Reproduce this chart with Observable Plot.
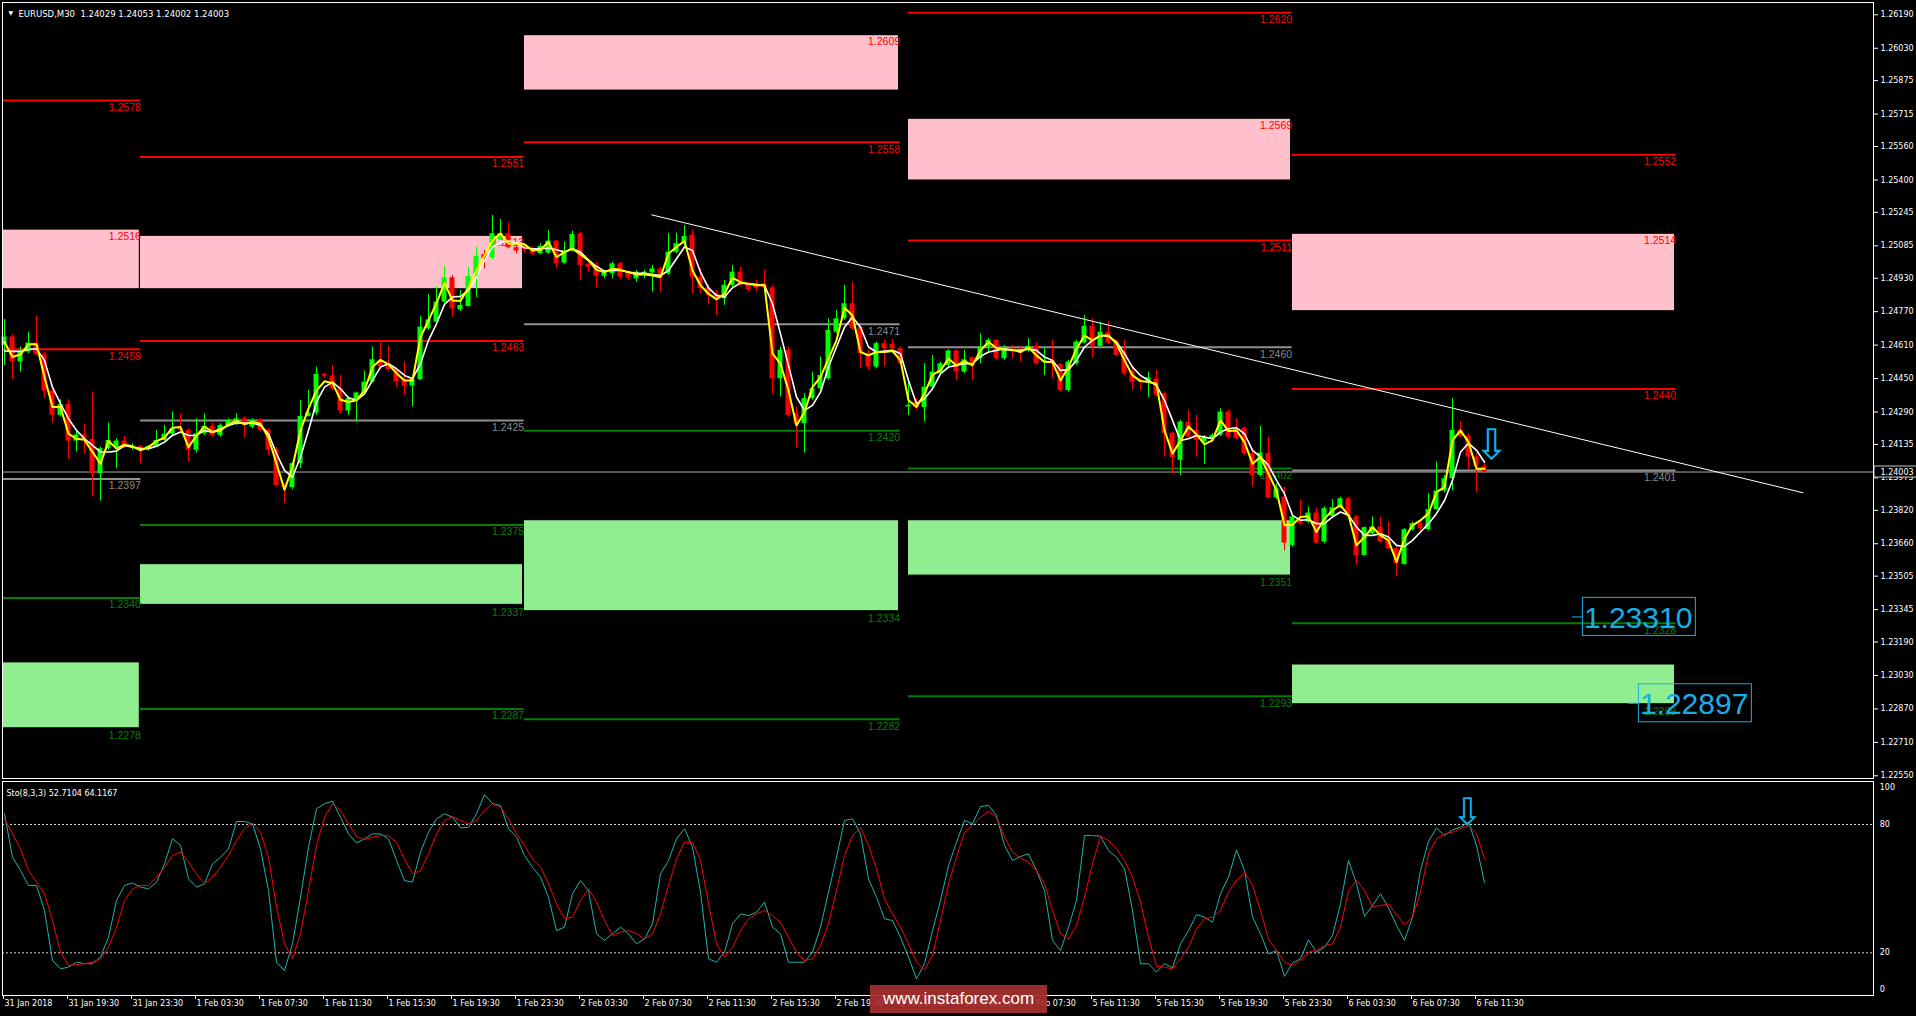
<!DOCTYPE html>
<html><head><meta charset="utf-8">
<script src="https://cdn.jsdelivr.net/npm/d3@7"></script>
<script src="https://cdn.jsdelivr.net/npm/@observablehq/plot@0.6"></script>
<style>
html,body{margin:0;padding:0;background:#000;}
#wrap{position:relative;width:1916px;height:1016px;overflow:hidden;background:#000;}
#main{position:absolute;left:0;top:0;}
#sto{position:absolute;left:0;top:780px;}
#main svg,#sto svg{display:block;}
#wm{position:absolute;left:870px;top:985px;width:177px;height:28px;background:rgba(168,48,48,0.92);color:#fff;font:17px "Liberation Sans",Arial,sans-serif;line-height:28px;text-align:center;}
</style></head>
<body><div id="wrap"><div id="main"></div><div id="sto"></div><div id="wm">www.instaforex.com</div></div>
<script>
// ---------- DATA (prices in points = 0.00001) ----------
const symbol = "EURUSD,M30";
const opens = [
124609,124649,124529,124577,124620,124564,124390,124274,124326,124151,
124181,124159,123995,124115,124119,124151,124119,124126,124110,124122,
124154,124183,124210,124202,124107,124186,124221,124178,124226,124237,
124258,124218,124250,124202,124107,123939,123928,124043,124269,124285,
124470,124462,124401,124295,124346,124381,124433,124529,124518,124492,
124441,124414,124444,124688,124720,124816,124932,124779,124795,124935,
125044,125028,125114,125143,125076,125071,125066,125047,125050,125108,
125002,125063,125143,124996,124991,124939,124951,124999,124955,124927,
124943,124955,124975,124951,125055,125095,125135,124935,124884,124856,
124832,124896,124959,124907,124904,124904,124884,124449,124585,124282,
124234,124354,124401,124449,124672,124736,124808,124696,124569,124505,
124617,124614,124593,124314,124338,124311,124409,124473,124513,124582,
124481,124550,124545,124601,124633,124545,124588,124593,124582,124604,
124529,124537,124518,124393,124521,124620,124700,124604,124672,124625,
124577,124481,124441,124433,124449,124378,124189,124059,124242,124202,
124146,124162,124178,124290,124210,124213,124091,123987,124091,123880,
123883,123652,123775,123764,123807,123668,123791,123832,123875,123788,
123604,123708,123740,123684,123636,123561,123727,123756,123727,123823,
123912,123971,124202,124173,124075,124029];
const highs = [
124733,124660,124601,124672,124747,124577,124401,124349,124349,124202,
124231,124382,124122,124237,124162,124173,124138,124130,124130,124202,
124226,124290,124282,124210,124258,124282,124237,124234,124258,124282,
124266,124258,124258,124210,124122,123947,124051,124346,124393,124505,
124476,124513,124465,124362,124385,124486,124601,124620,124605,124497,
124532,124449,124747,124852,124888,124986,124943,124872,124983,125079,
125063,125230,125211,125194,125095,125087,125079,125095,125159,125111,
125103,125155,125151,125002,125007,124967,125007,125007,124964,124967,
124967,124991,124983,125143,125146,125182,125159,124975,124896,124872,
124919,124991,124983,124911,124919,124970,124896,124601,124601,124314,
124378,124481,124553,124736,124776,124896,124911,124704,124585,124625,
124633,124636,124601,124441,124354,124521,124561,124529,124588,124588,
124585,124553,124664,124641,124636,124609,124609,124601,124641,124620,
124593,124633,124521,124537,124633,124752,124736,124720,124720,124633,
124633,124497,124449,124481,124489,124385,124194,124250,124298,124274,
124178,124186,124306,124298,124258,124218,124115,124221,124170,123947,
123931,123796,123867,123836,123828,123836,123871,123883,123883,123796,
123740,123788,123788,123764,123644,123732,123764,123764,123899,124051,
123987,124354,124245,124186,124091,124053];
const lows = [
124513,124446,124481,124569,124561,124354,124237,124266,124064,124099,
124091,123883,123864,124107,124019,124115,124107,124043,124103,124119,
124151,124178,124186,124051,124094,124178,124170,124170,124218,124226,
124167,124210,124194,124083,123931,123852,123918,124019,124266,124274,
124454,124393,124282,124274,124242,124370,124429,124497,124486,124409,
124370,124314,124441,124680,124709,124808,124744,124771,124792,124837,
124975,125018,125111,125071,125047,125050,125039,125042,125044,124975,
124996,125055,124919,124959,124884,124927,124927,124923,124919,124911,
124927,124864,124864,124943,125047,125079,124856,124856,124803,124752,
124800,124884,124888,124864,124864,124875,124378,124362,124266,124119,
124094,124346,124393,124441,124664,124728,124680,124497,124489,124497,
124505,124585,124513,124274,124301,124242,124401,124465,124505,124441,
124473,124441,124521,124569,124537,124537,124545,124529,124577,124516,
124465,124449,124385,124385,124513,124617,124550,124601,124613,124556,
124465,124393,124393,124358,124362,124075,123995,123987,124167,124075,
124040,124146,124173,124162,124157,124083,123931,123979,123875,123871,
123625,123644,123748,123756,123660,123660,123788,123828,123780,123557,
123600,123705,123663,123632,123501,123557,123721,123716,123721,123820,
123903,123912,124167,124011,123903,124002];
const closes = [
124649,124529,124577,124620,124564,124390,124274,124326,124151,124181,
124159,123995,124115,124154,124151,124119,124126,124110,124126,124154,
124183,124210,124202,124107,124186,124221,124178,124226,124250,124258,
124237,124250,124202,124107,123939,123928,124043,124269,124285,124470,
124462,124401,124295,124354,124381,124433,124540,124505,124492,124433,
124414,124444,124696,124731,124816,124932,124784,124800,124939,125034,
125023,125143,125143,125076,125060,125063,125047,125082,125108,124999,
125060,125139,124991,124983,124939,124959,124999,124935,124932,124959,
124959,124975,124935,125055,125095,125130,124935,124880,124848,124832,
124896,124959,124896,124875,124880,124884,124449,124585,124274,124231,
124354,124401,124465,124680,124736,124808,124688,124569,124505,124617,
124593,124593,124521,124322,124311,124409,124481,124521,124582,124481,
124540,124513,124601,124633,124545,124593,124585,124572,124604,124521,
124537,124529,124393,124529,124625,124700,124604,124672,124620,124561,
124473,124433,124433,124454,124370,124186,124071,124242,124170,124154,
124170,124178,124290,124170,124162,124091,123987,124094,123880,123923,
123663,123788,123756,123807,123663,123828,123832,123875,123788,123604,
123737,123740,123668,123636,123565,123727,123756,123732,123823,123912,
123971,124202,124173,124075,124028,124003];
// fast moving average (yellow), points
const maFast = [
124625,124553,124566,124614,124614,124457,124314,124314,124186,124162,
124157,124099,124043,124151,124115,124134,124126,124107,124122,124151,
124167,124215,124218,124122,124177,124221,124194,124202,124231,124247,
124231,124242,124234,124167,124043,123918,124027,124202,124306,124393,
124437,124428,124349,124338,124346,124393,124505,124540,124518,124476,
124441,124441,124649,124728,124811,124907,124824,124821,124884,124967,
125039,125111,125144,125095,125095,125092,125063,125066,125103,125031,
125055,125071,125044,125015,124970,124959,124975,124970,124959,124948,
124948,124943,124935,125047,125079,125108,124967,124896,124856,124829,
124856,124932,124911,124903,124896,124896,124569,124521,124393,124226,
124290,124409,124457,124545,124633,124789,124752,124577,124561,124577,
124577,124582,124537,124346,124314,124378,124468,124489,124545,124513,
124534,124513,124585,124625,124596,124588,124588,124577,124598,124561,
124529,124529,124441,124505,124593,124656,124633,124656,124656,124617,
124537,124465,124438,124433,124425,124202,124091,124154,124221,124183,
124135,124154,124250,124199,124202,124146,124043,124075,123995,123915,
123748,123751,123788,123791,123716,123780,123820,123844,123796,123652,
123692,123740,123700,123676,123573,123684,123748,123772,123804,123907,
123931,124154,124202,124146,124019,124019];
// slow moving average (white), points
const maSlow = [
124582,124580,124580,124589,124593,124537,124409,124330,124258,124202,
124162,124130,124099,124099,124103,124130,124122,124115,124115,124126,
124146,124178,124194,124178,124178,124202,124194,124210,124226,124237,
124237,124237,124226,124186,124091,124011,123979,124075,124202,124338,
124409,124433,124401,124358,124346,124377,124441,124505,124521,124497,
124465,124449,124521,124633,124712,124805,124840,124843,124872,124935,
125015,125079,125100,125108,125098,125076,125071,125071,125074,125066,
125055,125071,125055,125018,124986,124964,124967,124967,124959,124954,
124954,124948,124943,124967,125023,125079,125063,124959,124884,124848,
124840,124884,124907,124903,124900,124896,124808,124664,124513,124362,
124298,124322,124385,124505,124601,124696,124744,124696,124601,124577,
124582,124585,124569,124441,124330,124354,124401,124473,124505,124513,
124521,124521,124556,124577,124585,124593,124585,124585,124593,124585,
124553,124537,124489,124492,124537,124601,124633,124656,124652,124625,
124569,124505,124465,124441,124417,124346,124250,124154,124162,124178,
124170,124162,124194,124210,124215,124186,124107,124075,124035,123963,
123899,123796,123772,123775,123756,123756,123788,123812,123796,123740,
123700,123700,123708,123692,123652,123647,123676,123716,123756,123804,
123867,123963,124099,124141,124107,124050];
// Stochastic (8,3,3)
const stochK = [
85.0,64.7,58.5,51.5,51.5,39.8,16.4,12.5,13.3,15.6,
14.9,14.9,18.0,27.3,44.5,51.5,52.7,50.7,49.9,53.0,
61.6,73.3,70.2,54.6,50.7,52.3,61.6,64.7,68.6,81.4,
81.4,80.3,68.6,49.1,15.6,11.7,24.2,46.0,69.4,87.3,
89.7,90.9,83.4,75.6,71.3,73.3,75.6,75.6,73.3,63.2,
53.8,53.0,67.1,76.4,82.6,85.0,83.4,78.4,78.7,85.0,
94.0,89.7,88.9,78.0,74.1,65.5,60.0,55.4,46.0,30.4,
32.0,47.6,53.8,49.1,28.9,25.8,28.9,32.0,28.9,24.2,
26.5,33.6,56.9,63.2,73.3,78.0,69.4,48.4,17.2,15.6,
20.3,33.6,38.2,37.4,39.0,43.7,32.0,28.9,15.6,15.6,
15.6,20.3,32.0,48.4,64.7,81.9,82.6,75.6,54.6,46.0,
35.9,35.1,27.3,18.0,7.8,14.9,30.4,44.5,60.8,71.7,
81.9,80.3,88.4,88.9,84.2,70.2,63.2,65.0,66.3,58.5,
49.1,25.8,21.1,32.0,44.5,74.8,74.8,74.5,67.8,64.7,
59.3,39.8,14.9,14.9,11.0,14.9,13.0,24.2,30.4,37.9,
36.7,34.3,47.6,55.4,68.1,58.5,36.7,28.9,19.5,21.1,
9.0,15.3,17.2,26.1,20.3,22.6,28.1,42.9,63.2,52.3,
37.0,42.1,47.6,41.0,32.8,25.8,36.7,58.5,72.2,78.4,
74.8,77.5,78.7,81.1,70.2,52.7104];
const stochD = [
82.6,75.6,68.6,58.5,53.0,47.6,35.1,20.3,14.1,14.5,
14.9,15.6,17.2,22.6,32.0,44.5,49.9,51.5,51.5,55.4,
60.0,65.5,67.1,62.4,56.9,52.3,55.4,60.0,65.5,72.5,
78.0,80.6,76.4,64.7,41.4,24.2,17.2,28.9,49.1,70.2,
83.4,89.7,86.5,80.3,74.4,72.8,74.1,74.8,74.8,71.7,
63.9,56.9,58.5,66.3,75.6,81.9,83.7,81.9,80.3,81.9,
86.5,89.7,88.1,82.6,75.6,70.2,63.9,60.0,52.3,42.9,
35.9,36.7,44.5,49.9,43.7,35.1,28.1,29.7,30.4,28.9,
26.5,28.9,38.2,51.5,63.9,71.7,71.7,63.2,42.9,24.2,
18.0,22.6,30.4,35.9,38.2,39.8,37.4,34.3,27.3,20.3,
16.4,17.2,23.4,33.6,49.1,65.5,74.8,78.7,70.2,59.3,
45.2,38.2,32.0,24.2,15.6,12.0,18.8,35.1,52.3,64.7,
76.4,79.5,83.4,86.2,83.4,74.1,67.1,64.4,62.4,58.5,
52.3,39.8,28.9,26.5,32.8,46.0,61.6,74.5,72.5,68.6,
63.2,55.4,43.7,27.3,13.6,13.3,12.5,17.2,22.6,31.2,
35.9,36.7,39.8,48.4,53.8,57.7,51.5,39.8,26.5,21.1,
15.6,14.1,16.4,20.3,21.1,23.4,24.2,32.0,49.1,53.8,
49.1,41.6,42.1,42.9,37.9,33.2,36.7,48.4,66.3,73.3,
75.6,76.4,78.0,79.5,75.6,64.1167];
const timeLabels = ["31 Jan 2018","31 Jan 19:30","31 Jan 23:30","1 Feb 03:30","1 Feb 07:30","1 Feb 11:30","1 Feb 15:30","1 Feb 19:30","1 Feb 23:30","2 Feb 03:30","2 Feb 07:30","2 Feb 11:30","2 Feb 15:30","2 Feb 19:30","2 Feb 23:30","5 Feb 03:30","5 Feb 07:30","5 Feb 11:30","5 Feb 15:30","5 Feb 19:30","5 Feb 23:30","6 Feb 03:30","6 Feb 07:30","6 Feb 11:30"];
const priceTicks = [1.26190,1.26030,1.25875,1.25715,1.25560,1.25400,1.25245,1.25085,1.24930,1.24770,1.24610,1.24450,1.24290,1.24135,1.23975,1.23820,1.23660,1.23505,1.23345,1.23190,1.23030,1.22870,1.22710,1.22550];
const stochLevels = [100, 80, 20, 0];
// daily level sets: session start / end (bar index)
const dayStart = [-0.2, 17.0, 65.0, 113.0, 161.0];
const dayEnd = [16.85, 64.75, 111.75, 160.75, 208.75];
const resistanceLevels = [[0,1.2578],[0,1.2459],[1,1.2551],[1,1.2463],[2,1.2558],[3,1.2620],[3,1.2511],[4,1.2552],[4,1.2440]];
const pivotLevels = [[0,1.2397],[1,1.2425],[2,1.2471],[3,1.2460],[4,1.2401]];
const supportLevels = [[0,1.2340],[1,1.2375],[1,1.2287],[2,1.2420],[2,1.2282],[3,1.2402],[3,1.2293],[4,1.2328]];
const supplyZones = [[0,1.2516,1.2488],[1,1.2513,1.2488],[2,1.2609,1.2583],[3,1.2569,1.2540],[4,1.2514,1.24775]];
const demandZones = [[0,1.2309,1.2278],[1,1.2356,1.2337],[2,1.2377,1.2334],[3,1.2377,1.2351],[4,1.2308,1.22895]];
const trendLine = [{bar:80.9, price:1.25233},{bar:224.8, price:1.23904}];
const targets = [1.23310, 1.22897];

// ---------- BUILD ----------
const P = 1e5;
const fmt4 = d3.format(".4f"), fmt5 = d3.format(".5f");
const N = opens.length;
const bars = opens.map((o, i) => ({
  i, o: o / P, h: highs[i] / P, l: lows[i] / P, c: closes[i] / P,
  fast: maFast[i] / P, slow: maSlow[i] / P, k: stochK[i], d: stochD[i]
}));
const last = bars[N - 1];
const candleColor = d => d.c >= d.o ? "#00ff00" : "#ff0000";
const RED = "#ff0000", GREEN = "#008000", GRAY = "#909090", CYAN = "#16aee8";
const lines = [
  ...resistanceLevels.map(([day, price]) => ({day, price, stroke: RED, text: RED})),
  ...pivotLevels.map(([day, price]) => ({day, price, stroke: GRAY, text: "#8a8a8a"})),
  ...supportLevels.map(([day, price]) => ({day, price, stroke: GREEN, text: GREEN}))
];
const supply = supplyZones.map(([day, top, bottom]) => ({day, top, bottom}));
const demand = demandZones.map(([day, top, bottom]) => ({day, top, bottom}));

const X = {type: "linear", domain: [0, 233.625], range: [4, 1873]};
const pxPerPrice = (775.3 - 14.3) / (1.2619 - 1.2255);
const onePx = 1 / pxPerPrice;
const boxStart = [197.3, 204.3];
const boxBars = 14.12;
const FONT = "'DejaVu Sans', sans-serif";
const LFONT = "'Liberation Sans', Arial, sans-serif";

const main = Plot.plot({
  width: 1916, height: 780,
  marginTop: 2, marginBottom: 2, marginLeft: 2, marginRight: 43,
  style: {background: "#000", color: "#fff", fontFamily: FONT, fontSize: "8px"},
  x: {...X, axis: null},
  y: {domain: [1.2255, 1.2619], range: [775.3, 14.3], axis: "right", ticks: priceTicks, tickFormat: fmt5, tickSize: 4, tickPadding: 3, label: null},
  marks: [
    Plot.rect(supply, {x1: d => dayStart[d.day], x2: d => dayEnd[d.day], y1: "bottom", y2: "top", fill: "#ffc0cb"}),
    Plot.rect(demand, {x1: d => dayStart[d.day], x2: d => dayEnd[d.day], y1: "bottom", y2: "top", fill: "#90ee90"}),
    Plot.ruleY(lines, {y: "price", x1: d => dayStart[d.day], x2: d => dayEnd[d.day] + 0.2, stroke: d => d.stroke, strokeWidth: 2}),
    Plot.text(lines, {x: d => dayEnd[d.day] + 0.2, y: "price", text: d => fmt4(d.price), textAnchor: "end", dy: 7, fill: d => d.text, fontFamily: LFONT, fontSize: 10.5}),
    Plot.text(supply, {x: d => dayEnd[d.day] + 0.2, y: "top", text: d => fmt4(d.top), textAnchor: "end", dy: 6, fill: RED, fontFamily: LFONT, fontSize: 10.5}),
    Plot.text(demand, {x: d => dayEnd[d.day] + 0.2, y: "bottom", text: d => fmt4(d.bottom), textAnchor: "end", dy: 8, fill: GREEN, fontFamily: LFONT, fontSize: 10.5}),
    Plot.ruleY([last.c], {stroke: "#a8a8a8", strokeWidth: 1}),
    Plot.ruleX(bars, {x: "i", y1: "l", y2: "h", stroke: candleColor, strokeWidth: 1}),
    Plot.rect(bars, {x1: d => d.i - 0.3125, x2: d => d.i + 0.3125,
      y1: d => Math.min(d.o, d.c), y2: d => Math.max(d.o, d.c, Math.min(d.o, d.c) + onePx), fill: candleColor}),
    Plot.line(bars, {x: "i", y: "slow", stroke: "#ffffff", strokeWidth: 1.6}),
    Plot.line(bars, {x: "i", y: "fast", stroke: "#ffff00", strokeWidth: 2}),
    Plot.line(trendLine, {x: "bar", y: "price", stroke: "#ffffff", strokeWidth: 1}),
    Plot.ruleY(targets, {y: d => d, x1: (d, j) => boxStart[j] - 1.3, x2: (d, j) => boxStart[j], stroke: CYAN, strokeWidth: 1}),
    Plot.rect(targets, {x1: (d, j) => boxStart[j], x2: (d, j) => boxStart[j] + boxBars,
      y1: d => d - 19 * onePx, y2: d => d + 19 * onePx, fill: "none", stroke: CYAN, strokeWidth: 1}),
    Plot.text(targets, {x: (d, j) => boxStart[j], y: d => d, text: d => fmt5(d), textAnchor: "start", dx: 1, dy: 1, fill: CYAN, fontFamily: LFONT, fontSize: 30}),
    Plot.text(["\u21E9"], {x: 185.9, y: 1.24132, text: d => d, fill: CYAN, fontFamily: FONT, fontSize: 42}),
    Plot.rect([last.c], {x1: 233.75, x2: 239.2, y1: d => d - 5.5 * onePx, y2: d => d + 5.5 * onePx, fill: "#000", stroke: "#c8c8c8"}),
    Plot.text([last.c], {x: 234.5, y: d => d, text: d => fmt5(d), textAnchor: "start", fill: "#fff", fontFamily: FONT, fontSize: 8}),
    Plot.text(["\u25BC"], {frameAnchor: "top-left", text: d => d, dx: 6, dy: 8, textAnchor: "start", fill: "#fff", fontSize: 6}),
    Plot.text([`${symbol}  ${fmt5(last.o)} ${fmt5(last.h)} ${fmt5(last.l)} ${fmt5(last.c)}`], {frameAnchor: "top-left", text: d => d, dx: 16, dy: 8, textAnchor: "start", fill: "#fff", fontFamily: FONT, fontSize: 8.5}),
    Plot.frame({stroke: "#fff"})
  ]
});
document.getElementById("main").appendChild(main);

const sto = Plot.plot({
  width: 1916, height: 236,
  marginTop: 1, marginBottom: 21, marginLeft: 2, marginRight: 43,
  style: {background: "#000", color: "#fff", fontFamily: FONT, fontSize: "8px"},
  x: {...X, axis: "bottom", ticks: timeLabels.map((_, k) => k * 8 - 0.125), tickFormat: () => "", tickSize: 4, label: null},
  y: {domain: [0, 100], range: [215.1, 1.2], axis: null},
  marks: [
    Plot.ruleY([20, 80], {stroke: "#d8d8d8", strokeDasharray: "2,2", strokeWidth: 1}),
    Plot.line(bars, {x: "i", y: "k", stroke: "#20b2aa", strokeWidth: 1}),
    Plot.line(bars, {x: "i", y: "d", stroke: "#ff0000", strokeWidth: 1}),
    Plot.text(timeLabels, {x: (d, k) => k * 8 - 0.125, frameAnchor: "bottom", text: d => d, dy: 10, dx: 1, textAnchor: "start", fill: "#fff", fontFamily: FONT, fontSize: 8}),
    Plot.text(stochLevels, {x: 234.4, y: d => d, text: d => String(d), textAnchor: "start", fill: "#fff", fontFamily: FONT, fontSize: 8,
      filter: d => d === 80 || d === 20}),
    Plot.text([stochLevels[0]], {x: 234.4, y: d => d, text: d => String(d), dy: 6, textAnchor: "start", fill: "#fff", fontFamily: FONT, fontSize: 8}),
    Plot.text([stochLevels[3]], {x: 234.4, y: d => d, text: d => String(d), dy: -6, textAnchor: "start", fill: "#fff", fontFamily: FONT, fontSize: 8}),
    Plot.text([`Sto(8,3,3) ${stochK[N - 1].toFixed(4)} ${stochD[N - 1].toFixed(4)}`], {frameAnchor: "top-left", text: d => d, dx: 4, dy: 9, textAnchor: "start", fill: "#fff", fontFamily: FONT, fontSize: 8}),
    Plot.text(["\u21E9"], {x: 182.9, y: 85.6, text: d => d, fill: CYAN, fontFamily: FONT, fontSize: 38}),
    Plot.frame({stroke: "#fff"})
  ]
});
document.getElementById("sto").appendChild(sto);
</script>
</body></html>
